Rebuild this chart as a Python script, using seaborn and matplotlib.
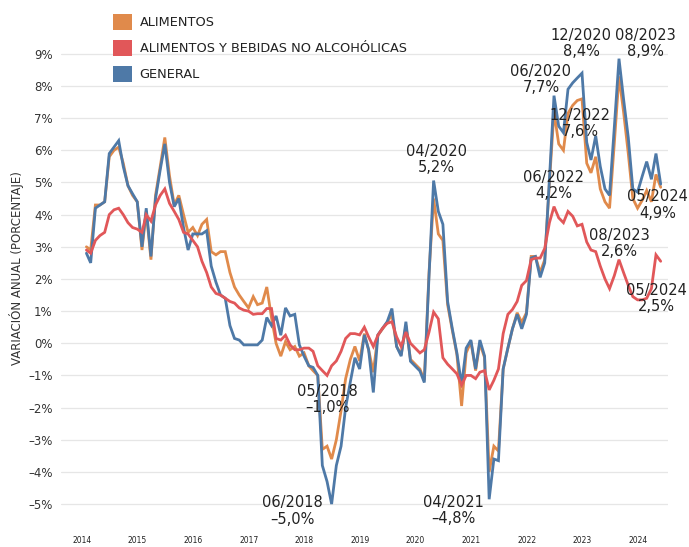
import numpy as np
import pandas as pd
import matplotlib
matplotlib.use("Agg")
import matplotlib.pyplot as plt
import seaborn as sns
from matplotlib.patches import Patch
from matplotlib.ticker import FuncFormatter

# ── Data (variación anual %, mensual ene-2014 .. may-2024) ─────────────
series_names = ["ALIMENTOS", "ALIMENTOS Y BEBIDAS NO ALCOHÓLICAS", "GENERAL"]

alimentos = [
    3.0, 2.9, 4.3, 4.3, 4.4, 5.8, 6.0, 6.1, 5.6, 4.9, 4.6, 4.4,
    2.9, 4.1, 2.6, 4.6, 5.5, 6.4, 5.2, 4.3, 4.6, 4.0, 3.45, 3.6,
    3.35, 3.7, 3.85, 2.85, 2.75, 2.85, 2.85, 2.2, 1.75, 1.5, 1.3, 1.1,
    1.45, 1.2, 1.25, 1.75, 0.8, 0.0, -0.4, 0.05, -0.2, -0.1, -0.4, -0.3,
    -0.7, -0.85, -1.0, -3.3, -3.2, -3.6, -3.0, -2.1, -1.1, -0.5, -0.1, -0.55,
    0.3, -0.2, -0.9, 0.25, 0.45, 0.65, 0.9, -0.1, -0.35, 0.55, -0.5, -0.65,
    -0.8, -1.15, 2.2, 4.5, 3.4, 3.2, 1.2, 0.4, -0.35, -1.95, -0.3, 0.05,
    -0.85, 0.0, -0.45, -4.0, -3.2, -3.35, -0.8, -0.15, 0.45, 0.95, 0.65, 0.95,
    2.7, 2.7, 2.2, 2.6, 5.0, 7.2, 6.2, 6.0, 7.15, 7.4, 7.55, 7.6,
    5.6, 5.3, 5.8, 4.8, 4.4, 4.2, 6.2, 8.3, 7.2, 5.9, 4.5, 4.2,
    4.45, 4.75, 4.4, 5.25, 4.85,
]

bebidas = [
    2.9, 2.8, 3.2, 3.35, 3.45, 4.0, 4.15, 4.2, 4.0, 3.75, 3.6, 3.55,
    3.45, 4.0, 3.8, 4.3, 4.6, 4.8, 4.35, 4.1, 3.85, 3.45, 3.4, 3.2,
    3.0, 2.55, 2.2, 1.75, 1.55, 1.5, 1.4, 1.3, 1.25, 1.1, 1.03, 1.0,
    0.9, 0.92, 0.92, 1.08, 1.08, 0.15, 0.1, 0.25, -0.05, -0.2, -0.2, -0.15,
    -0.15, -0.25, -0.7, -0.85, -1.0, -0.7, -0.55, -0.25, 0.15, 0.3, 0.3, 0.26,
    0.5, 0.2, -0.1, 0.25, 0.47, 0.62, 0.67, 0.2, -0.1, 0.35, 0.0, -0.15,
    -0.3, -0.2, 0.35, 0.97, 0.76, -0.45, -0.65, -0.8, -0.95, -1.3, -1.0, -1.0,
    -1.1, -0.9, -0.85, -1.45, -1.15, -0.8, 0.3, 0.9, 1.05, 1.3, 1.8, 1.95,
    2.6, 2.65, 2.65, 2.95, 3.75, 4.25, 3.9, 3.75, 4.1, 3.95, 3.65, 3.7,
    3.15, 2.9, 2.85, 2.4, 2.0, 1.7, 2.1, 2.6, 2.2, 1.8, 1.45, 1.35,
    1.35, 1.4, 1.7, 2.75, 2.55,
]

general = [
    2.8, 2.5, 4.2, 4.3, 4.4, 5.9, 6.1, 6.3, 5.5, 4.9, 4.65, 4.4,
    3.0, 4.2, 2.7, 4.5, 5.4, 6.2, 5.0, 4.25, 4.5, 3.6, 2.9, 3.4,
    3.4, 3.4, 3.5, 2.4, 1.9, 1.5, 1.4, 0.55, 0.15, 0.1, -0.05, -0.05,
    -0.05, -0.05, 0.1, 0.8, 0.55, 0.85, 0.25, 1.1, 0.85, 0.9, -0.05, -0.4,
    -0.7, -0.75, -1.0, -3.8, -4.3, -5.0, -3.8, -3.2, -2.0, -1.2, -0.45, -0.8,
    0.26, -0.2, -1.53, 0.26, 0.47, 0.67, 1.08, -0.1, -0.4, 0.67, -0.56, -0.71,
    -0.86, -1.22, 2.1, 5.06, 4.1, 3.7, 1.3, 0.45, -0.3, -1.3, -0.15, 0.1,
    -0.8, 0.1, -0.4, -4.85, -3.6, -3.65, -0.8, -0.15, 0.45, 0.9, 0.45, 0.9,
    2.65, 2.7, 2.05, 2.5, 5.1, 7.7, 6.75, 6.55, 7.9, 8.1, 8.25, 8.4,
    6.25, 5.7, 6.45, 5.5, 4.8, 4.6, 6.7, 8.85, 7.6, 6.4, 4.8, 4.7,
    5.2, 5.65, 5.1, 5.9, 4.95,
]

years = list(range(2014, 2025))
y_ticks = list(range(-5, 10))

# (texto, serie, índice del mes)
annotations = [
    ("12/2020\n8,4%", "GENERAL", 107),
    ("08/2023\n8,9%", "GENERAL", 115),
    ("06/2020\n7,7%", "GENERAL", 101),
    ("12/2022\n7,6%", "ALIMENTOS", 107),
    ("06/2022\n4,2%", "ALIMENTOS Y BEBIDAS NO ALCOHÓLICAS", 101),
    ("05/2024\n4,9%", "GENERAL", 124),
    ("08/2023\n2,6%", "ALIMENTOS Y BEBIDAS NO ALCOHÓLICAS", 115),
    ("05/2024\n2,5%", "ALIMENTOS Y BEBIDAS NO ALCOHÓLICAS", 124),
    ("04/2020\n5,2%", "GENERAL", 75),
    ("04/2021\n–4,8%", "GENERAL", 87),
    ("05/2018\n–1,0%", "ALIMENTOS Y BEBIDAS NO ALCOHÓLICAS", 52),
    ("06/2018\n–5,0%", "GENERAL", 53),
]
# offsets of each label block (pixels, +y down)
ann_offsets = [(-1, -30), (26, -15), (-13, -16), (-2, 25), (0, -21), (-3, 21),
               (0, -16), (-4, 37), (3, -21), (-36, 11), (0, 24), (-39, 7)]

# ── Style ────────────────────────────────────────────────────────────
sns.set_theme(style="white")
plt.rcParams["font.family"] = ["DejaVu Sans"]

colors = {
    "ALIMENTOS": "#e08a4b",
    "ALIMENTOS Y BEBIDAS NO ALCOHÓLICAS": "#e15759",
    "GENERAL": "#4e79a7",
}

dates = pd.date_range("2014-01-01", periods=len(general), freq="MS") + pd.offsets.MonthEnd(0)
wide = pd.DataFrame({
    "fecha": dates,
    "ALIMENTOS": alimentos,
    "ALIMENTOS Y BEBIDAS NO ALCOHÓLICAS": bebidas,
    "GENERAL": general,
})
df = wide.melt(id_vars="fecha", var_name="serie", value_name="valor")

fig = plt.figure(figsize=(6.89, 5.47), dpi=100)
ax = fig.add_axes([61 / 689, 1 - 533 / 547, 607 / 689, 492 / 547])

sns.lineplot(data=df, x="fecha", y="valor", hue="serie", hue_order=series_names,
             palette=colors, linewidth=2.0, legend=False, ax=ax)

# red on top, then blue, orange underneath
for line, z in zip(ax.lines, [2, 4, 3]):
    line.set_zorder(z)
    line.set_solid_joinstyle("miter")

ax.set_ylim(-5.9, 9.4)
ax.set_xlim(pd.Timestamp("2013-08-17"), pd.Timestamp("2024-07-18"))
ax.set_yticks(y_ticks)
ax.yaxis.set_major_formatter(FuncFormatter(lambda v, _: f"{v:.0f}%".replace("-", "–")))
ax.set_xticks([pd.Timestamp(f"{y}-01-01") for y in years])
ax.set_xticklabels([str(y) for y in years])
ax.tick_params(axis="x", length=0, pad=2, labelsize=5.5, colors="#222222")
ax.tick_params(axis="y", length=0, pad=6, labelsize=8.5, colors="#333333")
ax.set_xlabel("")
ax.set_ylabel("")
ax.grid(axis="y", color="#e6e6e6", linewidth=0.9)
ax.grid(axis="x", visible=False)
for s in ax.spines.values():
    s.set_visible(False)

fig.text(17 / 689, 1 - 268 / 547, "VARIACIÓN ANUAL (PORCENTAJE)", rotation=90,
         ha="center", va="center", fontsize=8.5, color="#333333")

# annotations
for (txt, serie, idx), (dx, dy) in zip(annotations, ann_offsets):
    ax.annotate(txt, xy=(wide["fecha"][idx], wide[serie][idx]),
                xytext=(dx * 0.72, -dy * 0.72), textcoords="offset points",
                ha="center", va="center", multialignment="center",
                fontsize=10.5, color="#222222", linespacing=1.1, zorder=6)

# legend with square swatches
handles = [Patch(facecolor=colors[n], edgecolor="none", label=n) for n in series_names]
fig.legend(handles=handles, loc="upper left", bbox_to_anchor=(112.5 / 689, 1 - 14 / 547),
           frameon=False, fontsize=9.3, handlelength=1.48, handleheight=1.48,
           handletextpad=0.62, labelspacing=0.82, borderpad=0, borderaxespad=0,
           labelcolor="#222222")

fig.savefig("out.png", dpi=100)
